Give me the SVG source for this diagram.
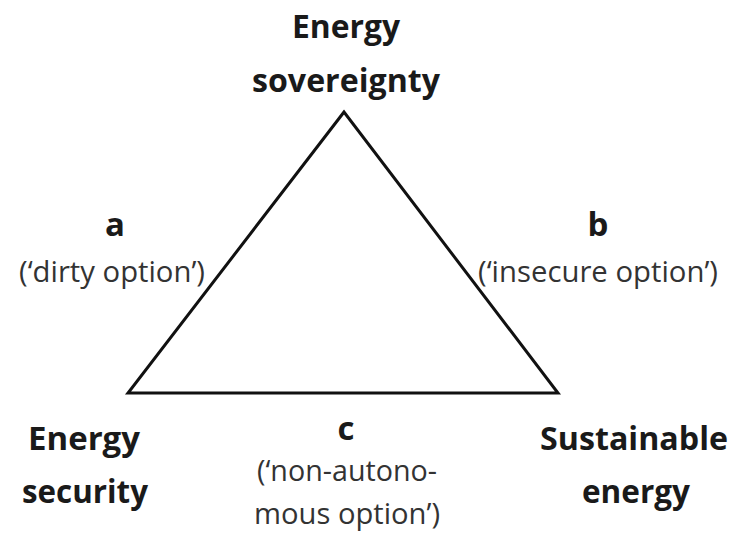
<svg xmlns="http://www.w3.org/2000/svg" width="733" height="537" viewBox="0 0 733 537">
<style>
.b{font-family:"Open Sans","Noto Sans",sans-serif;font-weight:700;font-size:33px;fill:#1a1a1a;text-anchor:middle}
.r{font-family:"Open Sans","Noto Sans",sans-serif;font-weight:400;font-size:29px;fill:#333;text-anchor:middle}
</style>
<rect width="733" height="537" fill="#fff"/>
<g id="connectors">
<polygon points="344,112 128,393 558,393" fill="none" stroke="#111" stroke-width="3" stroke-linejoin="miter"/>
</g>
<g id="node-sovereignty">
<text class="b" x="346" y="38" textLength="108" lengthAdjust="spacingAndGlyphs">Energy</text>
<text class="b" x="346" y="92" textLength="188" lengthAdjust="spacingAndGlyphs">sovereignty</text>
</g>
<g id="label-a">
<text class="b" x="115" y="236">a</text>
<text class="r" x="112" y="282" textLength="186" lengthAdjust="spacingAndGlyphs">(‘dirty option’)</text>
</g>
<g id="label-b">
<text class="b" x="598" y="236">b</text>
<text class="r" x="598" y="282" textLength="240" lengthAdjust="spacingAndGlyphs">(‘insecure option’)</text>
</g>
<g id="node-security">
<text class="b" x="84" y="450" textLength="112" lengthAdjust="spacingAndGlyphs">Energy</text>
<text class="b" x="85" y="503" textLength="126" lengthAdjust="spacingAndGlyphs">security</text>
</g>
<g id="label-c">
<text class="b" x="346" y="440">c</text>
<text class="r" x="347" y="481" textLength="180" lengthAdjust="spacingAndGlyphs">(‘non-autono-</text>
<text class="r" x="347" y="524" textLength="186" lengthAdjust="spacingAndGlyphs">mous option’)</text>
</g>
<g id="node-sustainable">
<text class="b" x="634" y="450" textLength="188" lengthAdjust="spacingAndGlyphs">Sustainable</text>
<text class="b" x="636" y="503" textLength="108" lengthAdjust="spacingAndGlyphs">energy</text>
</g>
</svg>
